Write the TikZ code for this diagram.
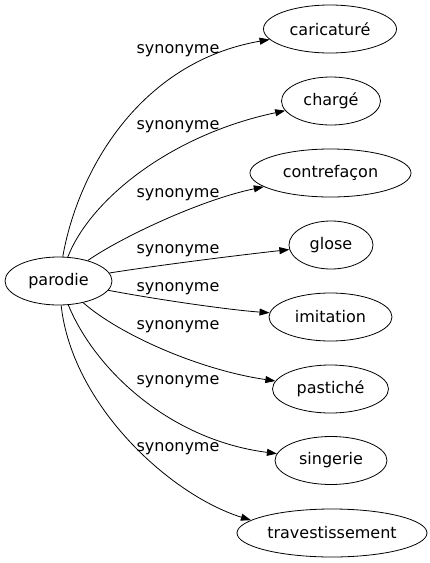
\documentclass[tikz,border=0pt]{standalone}
\usepackage{fontspec}
\setmainfont{DejaVu Sans}
\usetikzlibrary{shapes.geometric,arrows.meta}
\begin{document}
\begin{tikzpicture}[x=1pt,y=-1pt,
  term/.style={draw,ellipse,inner sep=0pt,minimum height=48pt,line width=0.8pt,font=\fontsize{16}{19}\selectfont},
  lbl/.style={inner sep=0pt,font=\fontsize{16}{19}\selectfont},
  edge/.style={line width=0.8pt,-{Triangle[length=10pt,width=7pt]}}]
\useasboundingbox (0,0) rectangle (430,563);
\node[term,minimum width=107pt] (parodie) at (58.5,281) {parodie};
\node[term,minimum width=133pt] (caricature) at (330,29) {caricaturé};
\node[term,minimum width=99pt] (charge) at (331,101) {chargé};
\node[term,minimum width=161pt] (contrefacon) at (330.5,173) {contrefaçon};
\node[term,minimum width=84pt] (glose) at (331,245) {glose};
\node[term,minimum width=123pt] (imitation) at (330.5,317) {imitation};
\node[term,minimum width=116pt] (pastiche) at (330.5,389) {pastiché};
\node[term,minimum width=112pt] (singerie) at (331,460.5) {singerie};
\node[term,minimum width=190pt] (travest) at (332,533) {travestissement};

\node[lbl] (l1) at (178,51) {synonyme};
\node[lbl] (l2) at (178,127) {synonyme};
\node[lbl] (l3) at (178,195) {synonyme};
\node[lbl] (l4) at (178,251) {synonyme};
\node[lbl] (l5) at (178,289) {synonyme};
\node[lbl] (l6) at (178,327) {synonyme};
\node[lbl] (l7) at (178,382) {synonyme};
\node[lbl] (l8) at (178,449) {synonyme};

\draw[edge] (parodie) .. controls (78,170) and (140,62) .. (caricature);
\draw[edge] (parodie) .. controls (90,200) and (170,135) .. (charge);
\draw[edge] (parodie) .. controls (120,238) and (200,200) .. (contrefacon);
\draw[edge] (parodie) .. controls (160,265) and (240,255) .. (glose);
\draw[edge] (parodie) .. controls (160,300) and (230,310) .. (imitation);
\draw[edge] (parodie) .. controls (120,335) and (200,370) .. (pastiche);
\draw[edge] (parodie) .. controls (95,370) and (170,440) .. (singerie);
\draw[edge] (parodie) .. controls (72,405) and (170,495) .. (travest.171);
\end{tikzpicture}
\end{document}
